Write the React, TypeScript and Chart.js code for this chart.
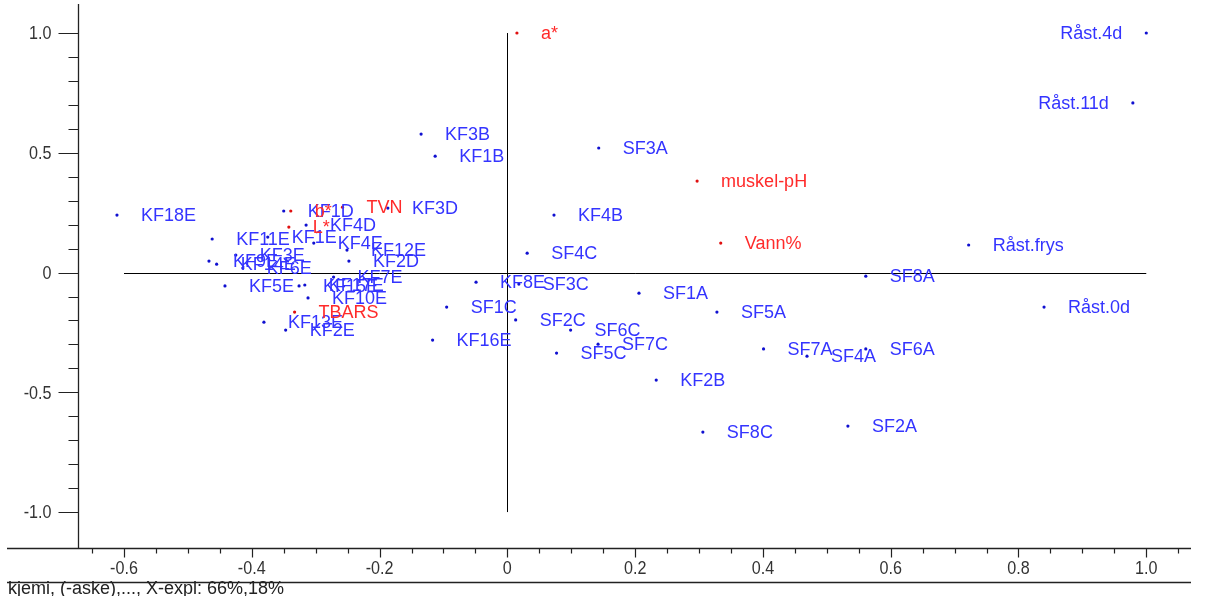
import React, { useEffect, useRef } from "react";
import { Chart, registerables } from "chart.js";

Chart.register(...registerables);

// Object scores (blue)
const objectLabels = [
  "Råst.4d", "Råst.11d", "Råst.frys", "Råst.0d", "SF8A", "SF1A", "SF5A", "SF7A", "SF4A", "SF6A",
  "SF2A", "SF8C", "KF2B", "SF3A", "KF3B", "KF1B", "KF4B", "SF4C", "KF3D", "KF8E",
  "SF3C", "SF1C", "SF2C", "SF6C", "SF7C", "SF5C", "KF16E", "KF18E", "KF1D", "KF4D",
  "KF11E", "KF1E", "KF4E", "KF12E", "KF3E", "KF2D", "KF9E", "KF14E", "KF6E", "KF5E",
  "KF15E", "KF17E", "KF7E", "KF10E", "KF13E", "KF2E",
];
const objectX = [
  1.0, 0.979, 0.722, 0.84, 0.561, 0.206, 0.328, 0.401, 0.469, 0.561,
  0.533, 0.306, 0.233, 0.143, -0.135, -0.113, 0.073, 0.031, -0.187, -0.049,
  0.018, -0.095, 0.013, 0.099, 0.142, 0.077, -0.117, -0.611, -0.35, -0.315,
  -0.462, -0.375, -0.303, -0.251, -0.425, -0.248, -0.467, -0.455, -0.414, -0.442,
  -0.326, -0.317, -0.272, -0.312, -0.381, -0.347,
];
const objectY = [
  1.0, 0.708, 0.115, -0.144, -0.015, -0.086, -0.165, -0.319, -0.349, -0.319,
  -0.641, -0.666, -0.449, 0.52, 0.578, 0.486, 0.24, 0.081, 0.269, -0.04,
  -0.048, -0.144, -0.198, -0.24, -0.299, -0.336, -0.282, 0.24, 0.257, 0.198,
  0.14, 0.148, 0.123, 0.094, 0.073, 0.048, 0.048, 0.035, 0.019, -0.056,
  -0.056, -0.052, -0.019, -0.106, -0.207, -0.24,
];

// Variable loadings (red)
const variableLabels = ["a*", "muskel-pH", "Vann%", "TVN", "b*", "L*", "TBARS"];
const variableX = [0.015, 0.297, 0.334, -0.258, -0.339, -0.342, -0.333];
const variableY = [1.0, 0.382, 0.123, 0.273, 0.257, 0.19, -0.165];

// labels drawn to the left of their point
const leftLabeled = ["Råst.4d", "Råst.11d"];

const xTicks = [-0.6, -0.4, -0.2, 0, 0.2, 0.4, 0.6, 0.8, 1.0];
const yTicks = [-1.0, -0.5, 0, 0.5, 1.0];
const xMinorStep = 0.05;
const xMinorRange = [-0.65, 1.05];
const yMinorStep = 0.1;
const yMinorRange = [-1.0, 1.0];
const zeroLineX = [-0.6, 1.0];
const zeroLineY = [-1.0, 1.0];
const footerText = "kjemi, (-aske),..., X-expl: 66%,18%";

const BLUE_DOT = "#1010d0";
const BLUE_TEXT = "#3434ff";
const RED_DOT = "#e01010";
const RED_TEXT = "#ff2a2a";
const FONT = '"Liberation Sans", Arial, sans-serif';

const fmt = (v: number) => (Math.abs(v) < 1e-9 ? "0" : v.toFixed(1));

function narrowText(ctx: any, text: string, px: number, py: number, align: string) {
  ctx.save();
  ctx.translate(px, py);
  ctx.scale(0.85, 1);
  ctx.textAlign = align;
  ctx.fillText(text, 0, 0);
  ctx.restore();
}

const decoPlugin = {
  id: "decoPlugin",
  beforeDatasetsDraw(chart: any) {
    const { ctx, chartArea, scales } = chart;
    const x = scales.x;
    const y = scales.y;
    const snap = (v: number) => Math.round(v) + 0.5;
    ctx.save();

    // zero lines
    ctx.strokeStyle = "#000";
    ctx.lineWidth = 1;
    ctx.beginPath();
    const y0 = snap(y.getPixelForValue(0));
    ctx.moveTo(x.getPixelForValue(zeroLineX[0]), y0);
    ctx.lineTo(x.getPixelForValue(zeroLineX[1]), y0);
    const x0 = snap(x.getPixelForValue(0));
    ctx.moveTo(x0, y.getPixelForValue(zeroLineY[0]));
    ctx.lineTo(x0, y.getPixelForValue(zeroLineY[1]));
    ctx.stroke();

    // axes
    const L = snap(chartArea.left);
    const B = snap(chartArea.bottom);
    const R = chartArea.right;
    ctx.strokeStyle = "#222";
    ctx.lineWidth = 1.3;
    ctx.beginPath();
    ctx.moveTo(L, 4);
    ctx.lineTo(L, B);
    ctx.moveTo(7, B);
    ctx.lineTo(R, B);
    ctx.moveTo(7, snap(582));
    ctx.lineTo(R, snap(582));
    ctx.stroke();

    // y ticks
    ctx.lineWidth = 1.2;
    ctx.beginPath();
    const nY = Math.round((yMinorRange[1] - yMinorRange[0]) / yMinorStep);
    for (let i = 0; i <= nY; i++) {
      const v = yMinorRange[0] + i * yMinorStep;
      const isMajor = yTicks.some((t) => Math.abs(t - v) < 1e-6);
      const py = snap(y.getPixelForValue(v));
      ctx.moveTo(L - (isMajor ? 20 : 10), py);
      ctx.lineTo(L, py);
    }
    // x ticks
    const nX = Math.round((xMinorRange[1] - xMinorRange[0]) / xMinorStep);
    for (let i = 0; i <= nX; i++) {
      const v = xMinorRange[0] + i * xMinorStep;
      const isMajor = xTicks.some((t) => Math.abs(t - v) < 1e-6);
      const px = snap(x.getPixelForValue(v));
      ctx.moveTo(px, B);
      ctx.lineTo(px, B + (isMajor ? 9 : 5));
    }
    ctx.stroke();

    // tick labels
    ctx.fillStyle = "#333";
    ctx.font = `19px ${FONT}`;
    ctx.textBaseline = "middle";
    yTicks.forEach((v) => {
      narrowText(ctx, fmt(v), L - 27, y.getPixelForValue(v) + 1, "right");
    });
    xTicks.forEach((v) => {
      narrowText(ctx, fmt(v), x.getPixelForValue(v), 569, "center");
    });

    // footer
    ctx.fillStyle = "#222";
    ctx.textAlign = "left";
    ctx.font = `18px ${FONT}`;
    ctx.fillText(footerText, 8, 589);
    ctx.restore();
  },
  afterDatasetsDraw(chart: any) {
    const { ctx } = chart;
    ctx.save();
    ctx.font = `18px ${FONT}`;
    ctx.textBaseline = "middle";
    chart.data.datasets.forEach((ds: any, di: number) => {
      const meta = chart.getDatasetMeta(di);
      ctx.fillStyle = ds.textColor;
      meta.data.forEach((pt: any, i: number) => {
        const label = ds.labels[i];
        const left = leftLabeled.includes(label);
        ctx.textAlign = left ? "right" : "left";
        ctx.fillText(label, pt.x + (left ? -24 : 24), pt.y + 1);
      });
    });
    ctx.restore();
  },
};

export default function App() {
  const canvasRef = useRef<HTMLCanvasElement | null>(null);

  useEffect(() => {
    const canvas = canvasRef.current;
    if (!canvas) return;
    const chart = new Chart(canvas, {
      type: "scatter",
      data: {
        datasets: [
          {
            label: "objects",
            data: objectX.map((v, i) => ({ x: v, y: objectY[i] })),
            labels: objectLabels,
            textColor: BLUE_TEXT,
            backgroundColor: BLUE_DOT,
            borderColor: BLUE_DOT,
            pointRadius: 1.6,
            borderWidth: 0,
          } as any,
          {
            label: "variables",
            data: variableX.map((v, i) => ({ x: v, y: variableY[i] })),
            labels: variableLabels,
            textColor: RED_TEXT,
            backgroundColor: RED_DOT,
            borderColor: RED_DOT,
            pointRadius: 1.6,
            borderWidth: 0,
          } as any,
        ],
      },
      options: {
        responsive: false,
        animation: false,
        devicePixelRatio: 1,
        layout: { padding: { left: 78, right: 27, top: 5, bottom: 48 } },
        plugins: { legend: { display: false }, tooltip: { enabled: false } },
        events: [],
        scales: {
          x: { type: "linear", min: -0.672, max: 1.07, display: false },
          y: { type: "linear", min: -1.15, max: 1.117, display: false },
        },
      },
      plugins: [decoPlugin],
    });
    return () => chart.destroy();
  }, []);

  return (
    <div style={{ position: "absolute", left: 0, top: 0, width: 1218, height: 596, background: "#fff" }}>
      <canvas ref={canvasRef} width={1218} height={596} style={{ display: "block" }} />
    </div>
  );
}
